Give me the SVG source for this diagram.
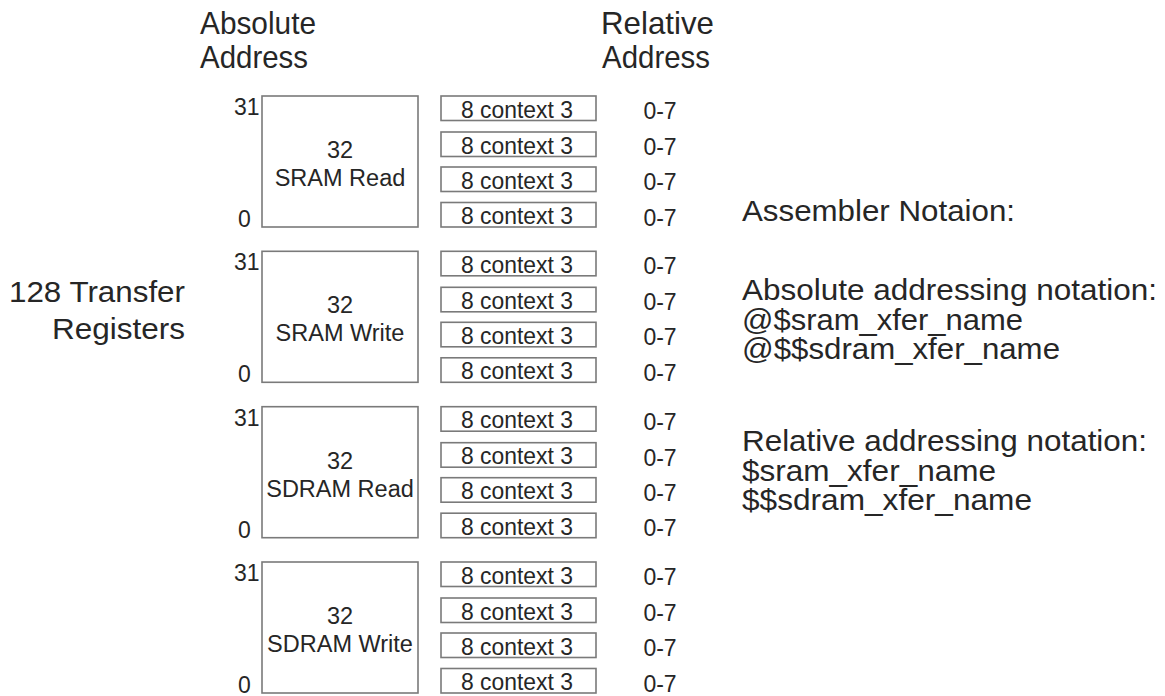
<svg xmlns="http://www.w3.org/2000/svg" width="1165" height="696" viewBox="0 0 1165 696">
  <style>
    text { font-family: "Liberation Sans", Arial, sans-serif; fill: #262626; }
    .big { fill: #fff; stroke: #7a7a7a; stroke-width: 1.6; }
    .ctx { fill: #fff; stroke: #7a7a7a; stroke-width: 1.6; }
    .head { font-size: 30.5px; }
    .cap { font-size: 30px; }
    .note { font-size: 29px; }
    .lbl { font-size: 23.5px; text-anchor: middle; }
    .sm { font-size: 23px; }
    .mid { text-anchor: middle; }
    .end { text-anchor: end; }
  </style>
  <defs>
    <!-- one 8-register context slot plus its relative address range -->
    <g id="slot">
      <rect class="ctx" x="441" y="0" width="155" height="24.5"/>
      <text class="sm mid" x="517" y="21.5" textLength="112" lengthAdjust="spacingAndGlyphs">8 context 3</text>
      <text class="sm mid" x="660" y="23">0-7</text>
    </g>
    <!-- four context slots belonging to one 32-register bank -->
    <g id="slots">
      <use href="#slot" y="0"/>
      <use href="#slot" y="36"/>
      <use href="#slot" y="71"/>
      <use href="#slot" y="106.5"/>
    </g>
  </defs>

  <rect width="1165" height="696" fill="#fff"/>

  <!-- column headings -->
  <g id="heading-absolute">
    <text class="head" x="200" y="34" textLength="116" lengthAdjust="spacingAndGlyphs">Absolute</text>
    <text class="head" x="200" y="68" textLength="108" lengthAdjust="spacingAndGlyphs">Address</text>
  </g>
  <g id="heading-relative">
    <text class="head" x="601" y="34" textLength="113" lengthAdjust="spacingAndGlyphs">Relative</text>
    <text class="head" x="602" y="68" textLength="108" lengthAdjust="spacingAndGlyphs">Address</text>
  </g>

  <!-- left caption -->
  <g id="caption-transfer">
    <text class="cap" x="9" y="302" textLength="176" lengthAdjust="spacingAndGlyphs">128 Transfer</text>
    <text class="cap" x="52" y="339" textLength="133" lengthAdjust="spacingAndGlyphs">Registers</text>
  </g>

  <!-- register banks -->
  <g id="bank-sram-read" transform="translate(0 96)">
    <rect class="big" x="262" y="0" width="156" height="131"/>
    <text class="sm" x="234" y="19">31</text>
    <text class="sm" x="238" y="131">0</text>
    <text class="lbl" x="340" y="62">32</text>
    <text class="lbl" x="340" y="90">SRAM Read</text>
    <use href="#slots"/>
  </g>
  <g id="bank-sram-write" transform="translate(0 251.3)">
    <rect class="big" x="262" y="0" width="156" height="131"/>
    <text class="sm" x="234" y="19">31</text>
    <text class="sm" x="238" y="131">0</text>
    <text class="lbl" x="340" y="62">32</text>
    <text class="lbl" x="340" y="90">SRAM Write</text>
    <use href="#slots"/>
  </g>
  <g id="bank-sdram-read" transform="translate(0 406.7)">
    <rect class="big" x="262" y="0" width="156" height="131"/>
    <text class="sm" x="234" y="19">31</text>
    <text class="sm" x="238" y="131">0</text>
    <text class="lbl" x="340" y="62">32</text>
    <text class="lbl" x="340" y="90">SDRAM Read</text>
    <use href="#slots"/>
  </g>
  <g id="bank-sdram-write" transform="translate(0 562)">
    <rect class="big" x="262" y="0" width="156" height="131"/>
    <text class="sm" x="234" y="19">31</text>
    <text class="sm" x="238" y="131">0</text>
    <text class="lbl" x="340" y="62">32</text>
    <text class="lbl" x="340" y="90">SDRAM Write</text>
    <use href="#slots"/>
  </g>

  <!-- assembler notation notes -->
  <g id="notes">
    <text class="note" x="742" y="221" textLength="273" lengthAdjust="spacingAndGlyphs">Assembler Notaion:</text>
    <text class="note" x="742" y="300" textLength="415" lengthAdjust="spacingAndGlyphs">Absolute addressing notation:</text>
    <text class="note" x="742" y="330" textLength="281" lengthAdjust="spacingAndGlyphs">@$sram_xfer_name</text>
    <text class="note" x="742" y="359" textLength="318" lengthAdjust="spacingAndGlyphs">@$$sdram_xfer_name</text>
    <text class="note" x="742" y="451" textLength="405" lengthAdjust="spacingAndGlyphs">Relative addressing notation:</text>
    <text class="note" x="742" y="481" textLength="254" lengthAdjust="spacingAndGlyphs">$sram_xfer_name</text>
    <text class="note" x="742" y="510" textLength="290" lengthAdjust="spacingAndGlyphs">$$sdram_xfer_name</text>
  </g>
</svg>
